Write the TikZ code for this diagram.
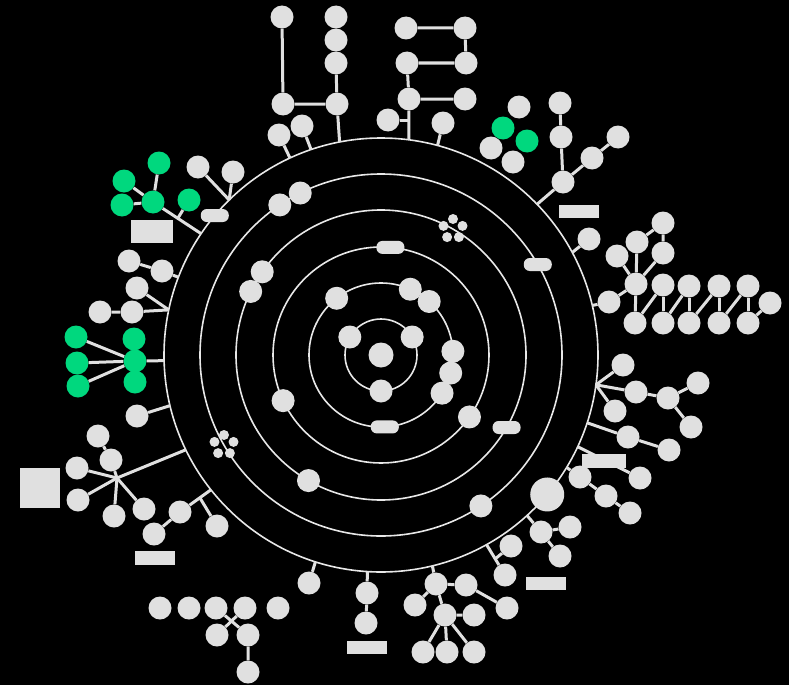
\documentclass[tikz,border=0pt]{standalone}
\usetikzlibrary{positioning,calc}
\definecolor{NodeGray}{RGB}{224,224,224}
\definecolor{RingGray}{RGB}{232,232,232}
\definecolor{HitGreen}{RGB}{0,216,126}

\begin{document}
\begin{tikzpicture}[x=1pt,y=-1pt,
  leaf/.style={circle,fill=NodeGray,minimum size=23pt,inner sep=0pt},
  hit/.style={leaf,fill=HitGreen},
  big/.style={leaf,minimum size=34pt},
  dot/.style={circle,fill=NodeGray,minimum size=10pt,inner sep=0pt},
  pill/.style={rectangle,rounded corners=6pt,fill=NodeGray,minimum width=28pt,
               minimum height=13pt,inner sep=0pt},
  tag/.style={rectangle,fill=NodeGray,minimum width=40pt,minimum height=13pt,inner sep=0pt},
  link/.style={draw=NodeGray,line width=3pt},
  ring/.style={draw=RingGray,line width=1.6pt},
]

\fill[black] (0,0) rectangle (789,685);

%% Rings
\coordinate (c) at (381,355);
\foreach \r in {36,72,108,145,181,217}
  \draw[ring] (c) circle[radius=\r];

%% Nodes on the rings
\begin{scope}[shift={(c)},yscale=-1]
  \node[leaf,minimum size=25pt] (core) at (0,0) {};
  \node[leaf] (a1) at (30:36)  {};
  \node[leaf] (a2) at (150:36) {};
  \node[leaf] (a3) at (270:36) {};
  \node[leaf] (b1) at (128:72) {};
  \node[leaf] (b2) at (66:72)  {};
  \node[leaf] (b3) at (48:72)  {};
  \node[leaf] (b4) at (3:72)   {};
  \node[leaf] (b5) at (-14.5:72) {};
  \node[leaf] (b6) at (-32:72) {};
  \node[pill] (b7) at (273:72) {};
  \node[pill] (c1) at (85:108) {};
  \node[leaf] (c2) at (205:108) {};
  \node[leaf] (c3) at (-35:108) {};
  \node[leaf] (d1) at (145:145) {};
  \node[leaf] (d2) at (154:145) {};
  \node[leaf] (d3) at (240:145) {};
  \node[pill] (d4) at (-30:145) {};
  \node[leaf] (f1) at (124:181) {};
  \node[leaf] (f2) at (116.5:181) {};
  \node[leaf] (f3) at (-56.5:181) {};
  \node[pill] (f4) at (30:181) {};
  \node[pill] (h1) at (140:217) {};
  \node[big]  (h2) at (-40:217) {};
  \foreach \n/\a in {o1/114.8,o2/108.8,o3/101,o4/82.6,o5/74.9,o6/44,o7/28.2,
                     o8/13.2,o9/-7.9,o10/-18.2,o11/-31.2,o12/-25,o13/-47.7,
                     o14/-60.9,o15/-76.3,o16/266.4,o17/252.4,o18/218.4,
                     o19/205.9,o20/193.5,o21/181.5,o22/168,o23/159,o24/146,o25/134.4}
    \coordinate (\n) at (\a:217);
\end{scope}

%% Dot clusters
\foreach \k/\ang in {1/90,2/18,3/306,4/234,5/162} {
  \node[dot] (da\k) at ({453+10*cos(\ang)},{229-10*sin(\ang)}) {};
  \node[dot] (db\k) at ({224+10*cos(\ang)},{445-10*sin(\ang)}) {};
}

%% Top
\node[leaf] (u1) at (282,17)  {};
\node[leaf] (u2) at (283,104) {};
\node[leaf] (v1) at (336,17)  {};
\node[leaf] (v2) at (336,40)  {};
\node[leaf] (v3) at (336,63)  {};
\node[leaf] (v4) at (337,104) {};
\node[leaf] (s1) at (279,135) {};
\node[leaf] (s2) at (302,126) {};
\node[leaf] (w1) at (406,28)  {};
\node[leaf] (w2) at (465,28)  {};
\node[leaf] (w3) at (466,63)  {};
\node[leaf] (w4) at (407,63)  {};
\node[leaf] (w5) at (409,99)  {};
\node[leaf] (w6) at (465,99)  {};
\node[leaf] (s3) at (388,120) {};
\node[leaf] (s4) at (443,123) {};
\coordinate (wj) at (409,120);
\draw[link] (u1)--(u2)--(v4);
\draw[link] (v3)--(v4)--(o3);
\draw[link] (s1)--(o1); \draw[link] (s2)--(o2);
\draw[link] (w1)--(w2)--(w3)--(w4)--(w5)--(w6);
\draw[link] (w5)--(o4); \draw[link] (s3)--(wj);
\draw[link] (s4)--(o5);

%% Top right
\node[leaf] (k1) at (519,107) {};
\node[hit]  (k2) at (503,128) {};
\node[hit]  (k3) at (527,141) {};
\node[leaf] (k4) at (491,148) {};
\node[leaf] (k5) at (513,162) {};
\node[leaf] (t1) at (560,103) {};
\node[leaf] (t2) at (561,137) {};
\node[leaf] (t3) at (563,182) {};
\node[leaf] (t4) at (592,158) {};
\node[leaf] (t5) at (618,137) {};
\node[tag]  (g1) at (579,211) {};
\node[leaf] (s5) at (589,239) {};
\draw[link] (t1)--(t2)--(t3)--(o6);
\draw[link] (t3)--(t4)--(t5);
\draw[link] (s5)--(o7);

%% Right
\node[leaf] (e1) at (609,302) {};
\node[leaf] (e0) at (636,284) {};
\node[leaf] (e2) at (663,223) {};
\node[leaf] (e3) at (637,242) {};
\node[leaf] (e4) at (663,253) {};
\node[leaf] (e5) at (617,256) {};
\foreach \i/\x in {1/635,2/663,3/689,4/719,5/748}
  \node[leaf] (lo\i) at (\x,323) {};
\foreach \i/\x/\y in {2/663/285,3/689/286,4/719/286,5/748/286,6/770/303}
  \node[leaf] (up\i) at (\x,\y) {};
\draw[link] (o8)--(e1)--(e0)--(lo1);
\draw[link] (e0)--(e5); \draw[link] (e0)--(e3); \draw[link] (e0)--(e4);
\draw[link] (e3)--(e2)--(e4);
\foreach \i [count=\j] in {2,...,6}
  \draw[link] (up\i)--(lo\j);
\foreach \i in {2,...,5}
  \draw[link] (up\i)--(lo\i);

%% Right lower
\node[leaf] (m1) at (623,365) {};
\node[leaf] (m2) at (636,392) {};
\node[leaf] (m3) at (615,411) {};
\node[leaf] (m4) at (668,398) {};
\node[leaf] (m5) at (698,383) {};
\node[leaf] (m6) at (691,427) {};
\node[leaf] (m7) at (628,437) {};
\node[leaf] (m8) at (669,450) {};
\node[tag,minimum width=44pt,minimum height=14pt] (g2) at (604,461) {};
\node[leaf] (q1) at (580,477) {};
\node[leaf] (q2) at (640,478) {};
\node[leaf] (q3) at (606,496) {};
\node[leaf] (q4) at (630,513) {};
\draw[link] (o9)--(m1); \draw[link] (o9)--(m2); \draw[link] (o9)--(m3);
\draw[link] (m2)--(m4)--(m5); \draw[link] (m4)--(m6);
\draw[link] (o10)--(m7)--(m8);
\draw[link] (o11)--(q1)--(q3)--(q4);
\draw[link] (o12)--(q2);

%% Bottom right
\node[leaf] (x1) at (541,532) {};
\node[leaf] (x2) at (570,527) {};
\node[leaf] (x3) at (560,556) {};
\node[leaf] (y1) at (511,546) {};
\node[leaf] (y2) at (505,575) {};
\node[tag]  (g3) at (546,583) {};
\coordinate (yj) at (495,559);
\draw[link] (o13)--(x1)--(x2); \draw[link] (x1)--(x3);
\draw[link] (o14)--(y2); \draw[link] (yj)--(y1);

%% Bottom
\node[leaf] (z1) at (436,584) {};
\node[leaf] (z2) at (466,585) {};
\node[leaf] (z3) at (507,608) {};
\node[leaf] (z4) at (415,605) {};
\node[leaf] (z5) at (445,615) {};
\node[leaf] (z6) at (474,615) {};
\node[leaf] (z7) at (423,652) {};
\node[leaf] (z8) at (447,652) {};
\node[leaf] (z9) at (474,652) {};
\draw[link] (o15)--(z1)--(z2)--(z3);
\draw[link] (z1)--(z4); \draw[link] (z1)--(z5)--(z6);
\foreach \n in {z7,z8,z9} \draw[link] (z5)--(\n);
\node[leaf] (n1) at (367,593) {};
\node[leaf] (n2) at (366,623) {};
\node[tag]  (g4) at (367,647) {};
\node[leaf] (n3) at (309,583) {};
\draw[link] (o16)--(n1)--(n2);
\draw[link] (o17)--(n3);

%% Bottom left
\foreach \i/\x in {1/160,2/189,3/216,4/245,5/278}
  \node[leaf] (l\i) at (\x,608) {};
\node[leaf] (l6) at (217,635) {};
\node[leaf] (l7) at (248,635) {};
\node[leaf] (l8) at (248,672) {};
\draw[link] (l3)--(l7)--(l8); \draw[link] (l4)--(l6);
\node[leaf] (i1) at (180,512) {};
\node[leaf] (i2) at (217,526) {};
\node[leaf] (i3) at (154,534) {};
\node[tag,minimum height=14pt] (g5) at (155,558) {};
\coordinate (ij) at (200,498);
\draw[link] (o18)--(i1)--(i3); \draw[link] (ij)--(i2);
\coordinate (hj) at (117,478);
\node[leaf] (j1) at (111,460) {};
\node[leaf] (j2) at (98,436)  {};
\node[leaf] (j3) at (77,468)  {};
\node[leaf] (j4) at (78,500)  {};
\node[leaf] (j5) at (114,516) {};
\node[leaf] (j6) at (144,509) {};
\node[tag,minimum height=40pt] (g6) at (40,488) {};
\draw[link] (o19)--(hj)--(j1)--(j2);
\foreach \n in {j3,j4,j5,j6} \draw[link] (hj)--(\n);
\node[leaf] (s6) at (137,416) {};
\draw[link] (o20)--(s6);

%% Left
\node[hit] (gr1) at (76,337) {};
\node[hit] (gr2) at (77,363) {};
\node[hit] (gr3) at (78,386) {};
\node[hit] (gc1) at (134,339) {};
\node[hit] (gc3) at (135,382) {};
\node[hit] (gc2) at (135,361) {};
\draw[link] (o21)--(gc2);
\foreach \n in {gr1,gr2,gr3} \draw[link] (\n)--(gc2);
\node[leaf] (s7) at (137,288) {};
\node[leaf] (s8) at (132,312) {};
\node[leaf] (s9) at (100,312) {};
\draw[link] (o22)--(s8)--(s9); \draw[link] (s7)--(o22);
\node[leaf] (s10) at (162,271) {};
\node[leaf] (s11) at (129,261) {};
\draw[link] (o23)--(s10)--(s11);

%% Top left
\node[hit] (gt1) at (159,163) {};
\node[hit] (gt2) at (124,181) {};
\node[hit] (gt3) at (122,205) {};
\node[hit] (gt4) at (153,202) {};
\node[hit] (gt5) at (189,200) {};
\coordinate (gj) at (178,218);
\foreach \n in {gt1,gt2,gt3} \draw[link] (\n)--(gt4);
\draw[link] (gt4)--(o24); \draw[link] (gt5)--(gj);
\node[tag,minimum width=42pt,minimum height=23pt] (g7) at (152,231) {};
\node[leaf] (s12) at (198,167) {};
\node[leaf] (s13) at (233,172) {};
\draw[link] (s12)--(o25); \draw[link] (s13)--(o25);

\end{tikzpicture}
\end{document}
